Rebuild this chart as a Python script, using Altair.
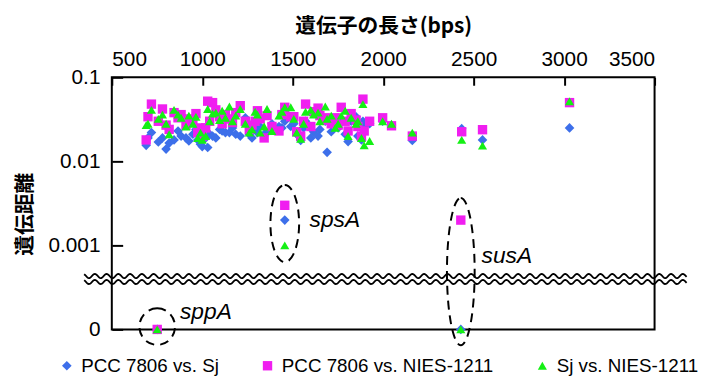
import altair as alt
import numpy as np
import pandas as pd

# ---------------- data ----------------
gene_length = [690, 700, 719, 757, 800, 817, 844, 866, 883, 910,
               926, 948, 965, 975, 990, 1000, 1019, 1030, 1041, 1057,
               1096, 1128, 1150, 1167, 1210, 1238, 1260, 1292, 1320, 1342,
               1358, 1385, 1424, 1456, 1489, 1506, 1522, 1544, 1560, 1571,
               1615, 1650, 1680, 1690, 1713, 1751, 1768, 1806, 1823, 1850,
               1880, 1888, 1895, 1997, 2046, 2161, 2434, 2549, 3030,
               1075, 1110, 1185, 1275, 1305, 1440, 1600, 1640, 1735, 1790,
               1860, 780, 1925,
               751, 1456, 2429]
d_pcc_sj = [0.0155, 0.019, 0.022, 0.017, 0.014, 0.0165, 0.018, 0.023, 0.020, 0.019,
            0.0175, 0.021, 0.024, 0.018, 0.016, 0.015, 0.019, 0.0146, 0.021, 0.020,
            0.024, 0.022, 0.022, 0.025, 0.020, 0.033, 0.021, 0.024, 0.026, 0.021,
            0.022, 0.028, 0.026, 0.030, 0.026, 0.028, 0.021, 0.0177, 0.025, 0.030,
            0.0225, 0.024, 0.030, 0.0128, 0.0225, 0.025, 0.029, 0.0172, 0.030, 0.034,
            0.018, 0.030, 0.026, 0.030, 0.027, 0.0177, 0.0245, 0.018, 0.025,
            0.019, 0.023, 0.021, 0.019, 0.022, 0.025, 0.019, 0.020, 0.027, 0.021,
            0.020, 0.019, 0.028,
            0.0, 0.002, 0.0]
d_pcc_nies = [0.018, 0.034, 0.048, 0.030, 0.027, 0.024, 0.038, 0.033, 0.036, 0.027,
              0.032, 0.030, 0.037, 0.022, 0.025, 0.020, 0.025, 0.052, 0.030, 0.050,
              0.034, 0.036, 0.032, 0.029, 0.046, 0.030, 0.024, 0.030, 0.032, 0.019,
              0.035, 0.026, 0.023, 0.044, 0.034, 0.034, 0.0225, 0.020, 0.030, 0.048,
              0.039, 0.035, 0.033, 0.031, 0.028, 0.027, 0.044, 0.023, 0.037, 0.031,
              0.020, 0.055, 0.023, 0.033, 0.0265, 0.020, 0.0225, 0.0238, 0.050,
              0.041, 0.028, 0.038, 0.027, 0.040, 0.036, 0.026, 0.043, 0.033, 0.030,
              0.026, 0.042, 0.030,
              0.0, 0.003, 0.002]
d_sj_nies = [0.027, 0.028, 0.041, 0.032, 0.028, 0.021, 0.041, 0.036, 0.033, 0.026,
             0.035, 0.028, 0.034, 0.019, 0.022, 0.018, 0.020, 0.042, 0.030, 0.037,
             0.031, 0.033, 0.045, 0.030, 0.042, 0.028, 0.022, 0.039, 0.022, 0.026,
             0.042, 0.023, 0.035, 0.044, 0.044, 0.032, 0.022, 0.0186, 0.028, 0.039,
             0.036, 0.030, 0.045, 0.032, 0.035, 0.028, 0.035, 0.020, 0.033, 0.028,
             0.019, 0.048, 0.0155, 0.030, 0.028, 0.022, 0.018, 0.0154, 0.052,
             0.038, 0.040, 0.035, 0.024, 0.036, 0.039, 0.041, 0.038, 0.025, 0.040,
             0.030, 0.036, 0.0175,
             0.0, 0.001, 0.0]

series_names = ["PCC 7806 vs. Sj", "PCC 7806 vs. NIES-1211", "Sj vs. NIES-1211"]
x_ticks = [500, 1000, 1500, 2000, 2500, 3000, 3500]
y_ticks = [0.0001, 0.001, 0.01, 0.1]
zero_level = 0.0001          # where a distance of 0 is drawn (labelled "0")

gene_names = ["sppA", "spsA", "susA"]
label_length = [877, 1593, 2544]
label_dist = [0.000163, 0.00202, 0.000743]
ring_length = [751, 1456, 2429]
ring_dist = [0.000108, 0.00182, 0.000488]
break_levels = [0.000432, 0.000367]

# ---------------- styles ----------------
series_colors = ["#3D6FEA", "#F01EF0", "#14F014"]
series_shapes = ["diamond", "square", "triangle-up"]
series_sizes = [95, 85, 125]
ring_px = [(36, 37), (29, 78), (28, 149)]   # ellipse width, height in px

rows = []
for name, vals in zip(series_names, [d_pcc_sj, d_pcc_nies, d_sj_nies]):
    for L, v in zip(gene_length, vals):
        rows.append({"length": L, "dist": v if v > 0 else zero_level, "series": name})
df = pd.DataFrame(rows)

ring_rows = []
for L, d, (w, h) in zip(ring_length, ring_dist, ring_px):
    rx = w / h
    path = f"M0,-1A{rx:.3f},1 0 1,1 0,1A{rx:.3f},1 0 1,1 0,-1Z"
    ring_rows.append({"length": L, "dist": d, "path": path, "sz": h * h})
ring_df = pd.DataFrame(ring_rows)

label_df = pd.DataFrame({"length": label_length, "dist": label_dist, "name": gene_names})

# wavy axis-break lines (decoration)
wave_rows = []
period = 65.0
amp = 0.025
for i, lvl in enumerate(break_levels):
    for xv in np.arange(347.0, 3682.0, 5.0):
        wave_rows.append({"length": xv,
                          "dist": lvl * 10 ** (amp * np.sin(2 * np.pi * xv / period)),
                          "line": i})
wave_df = pd.DataFrame(wave_rows)

x_scale = alt.Scale(domain=[500, 3500], nice=False, zero=False)
y_scale = alt.Scale(type="log", domain=[0.0001, 0.1], nice=False)

x_axis = alt.Axis(orient="top", values=x_ticks, format="d", offset=-8, tickSize=8,
                  tickWidth=2, tickColor="black", domain=False, grid=False,
                  labelPadding=8, labelFont="Liberation Sans", labelFontSize=21,
                  labelColor="black", titleFont="Noto Sans CJK JP", titleFontSize=21,
                  titleFontWeight="bold", titleColor="black", titleBaseline="middle",
                  titleY=-59)
y_axis = alt.Axis(orient="left", values=y_ticks, offset=-11, tickSize=11, tickWidth=2,
                  tickColor="black", domain=False, grid=False, labelPadding=12,
                  labelExpr="datum.value < 0.0005 ? '0' : format(datum.value, '~g')",
                  labelFont="Liberation Sans", labelFontSize=21, labelColor="black",
                  titleFont="Noto Sans CJK JP", titleFontSize=21, titleFontWeight="bold",
                  titleColor="black", titleX=-98, titleY=138, titleAngle=270,
                  titleAlign="center", titleBaseline="middle")

x_enc = alt.X("length:Q", scale=x_scale, axis=x_axis, title="遺伝子の長さ(bps)")
y_enc = alt.Y("dist:Q", scale=y_scale, axis=y_axis, title="遺伝距離")

legend = alt.Legend(title=None, orient="none", direction="horizontal", columns=3,
                    legendX=-55, legendY=282, labelFont="Liberation Sans",
                    labelFontSize=19, labelColor="black", labelLimit=400, symbolSize=50,
                    symbolStrokeWidth=0, labelOffset=5, columnPadding=39)

points = alt.Chart(df).mark_point(filled=True, opacity=1).encode(
    x=x_enc, y=y_enc,
    color=alt.Color("series:N", scale=alt.Scale(domain=series_names, range=series_colors),
                    legend=legend),
    shape=alt.Shape("series:N", scale=alt.Scale(domain=series_names, range=series_shapes),
                    legend=legend),
    size=alt.Size("series:N", scale=alt.Scale(domain=series_names, range=series_sizes),
                  legend=None),
)

waves = alt.Chart(wave_df).mark_line(color="black", strokeWidth=1.8).encode(
    x=x_enc, y=y_enc, detail="line:N", order="length:Q")

rings = alt.Chart(ring_df).mark_point(filled=False, stroke="black", strokeWidth=2,
                                      strokeDash=[9, 6], opacity=1).encode(
    x=x_enc, y=y_enc,
    shape=alt.Shape("path:N", scale=None),
    size=alt.Size("sz:Q", scale=None))

labels = alt.Chart(label_df).mark_text(align="left", baseline="middle", fontStyle="italic",
                                       font="Liberation Sans", fontSize=23,
                                       color="black").encode(
    x=x_enc, y=y_enc, text="name:N")

chart = alt.layer(points, waves, rings, labels).properties(
    width=549, height=255,
    autosize=alt.AutoSizeParams(type="none"),
    padding={"left": 105, "top": 68, "right": 50, "bottom": 46},
    background="white",
).configure_view(stroke="black", strokeWidth=2)

chart.save("out.html", embed_options={"renderer": "svg", "actions": False})
